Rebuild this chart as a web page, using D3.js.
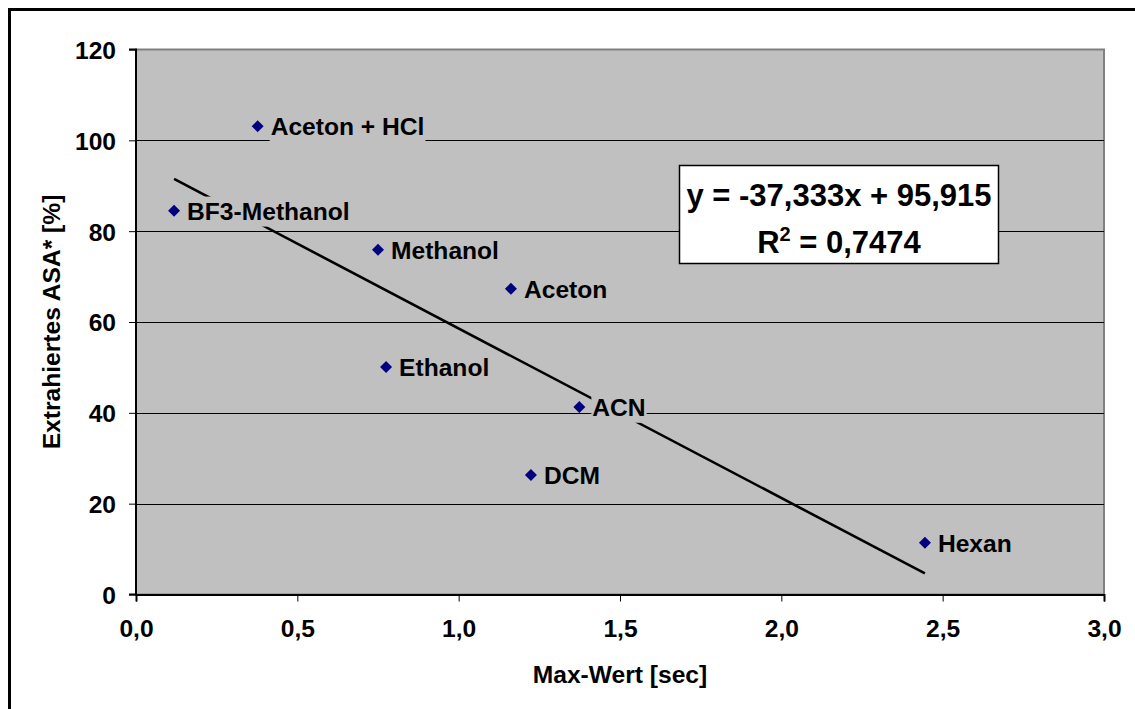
<!DOCTYPE html>
<html>
<head>
<meta charset="utf-8">
<script src="https://cdn.jsdelivr.net/npm/d3@7"></script>
<style>
  html, body { margin: 0; padding: 0; background: #fff; }
  svg { display: block; }
  text { font-family: "Liberation Sans", Arial, sans-serif; font-weight: bold; fill: #000; }
</style>
</head>
<body>
<svg id="chart" width="1135" height="709"></svg>
<script>
// ---- data ----
const names   = ["Aceton + HCl", "BF3-Methanol", "Methanol", "Aceton", "Ethanol", "ACN", "DCM", "Hexan"];
const maxWert = [0.377, 0.118, 0.750, 1.162, 0.775, 1.374, 1.224, 2.445];
const asa     = [103.1, 84.5, 75.9, 67.3, 50.1, 41.3, 26.3, 11.4];
const xTicks  = [0, 0.5, 1.0, 1.5, 2.0, 2.5, 3.0];
const yTicks  = [0, 20, 40, 60, 80, 100, 120];
const trendSlope = [-37.333];
const trendIntercept = [95.915];
const eqLine1 = "y = -37,333x + 95,915";
const eqR2 = "0,7474";
const xTitle = "Max-Wert [sec]";
const yTitle = "Extrahiertes ASA* [%]";

// ---- layout ----
const svg = d3.select("#chart");
const L = 136, R = 1104, T = 49.5, B = 594.5;
const x = d3.scaleLinear().domain([0, 3]).range([L, R]);
const y = d3.scaleLinear().domain([0, 120]).range([B, T]);
const fmt = d => d3.format(".1f")(d).replace(".", ",");
const FS = "24.6px";

// outer frame
svg.append("rect").attr("x", 9.5).attr("y", 9.5).attr("width", 1140).attr("height", 720)
  .attr("fill", "#fff").attr("stroke", "#000").attr("stroke-width", 3);

// plot background
svg.append("rect").attr("x", L).attr("y", T).attr("width", R - L).attr("height", B - T)
  .attr("fill", "#C0C0C0").attr("stroke", "#808080").attr("stroke-width", 2);

// gridlines
svg.append("g").selectAll("line").data(yTicks.filter(d => d > 0 && d < 120)).join("line")
  .attr("x1", L).attr("x2", R).attr("y1", d => Math.round(y(d)) + 0.5).attr("y2", d => Math.round(y(d)) + 0.5)
  .attr("stroke", "#000").attr("stroke-width", 1);

// axes
const xAxis = svg.append("g").attr("transform", `translate(0,${B})`)
  .call(d3.axisBottom(x).tickValues(xTicks).tickSize(7).tickPadding(18).tickFormat(fmt));
const yAxis = svg.append("g").attr("transform", `translate(${L},0)`)
  .call(d3.axisLeft(y).tickValues(yTicks).tickSize(7).tickPadding(13).tickFormat(d3.format("d")));
[xAxis, yAxis].forEach(g => {
  g.select(".domain").attr("stroke", "#000").attr("stroke-width", 2);
  g.selectAll(".tick line").attr("stroke", "#000").attr("stroke-width", 1);
  g.selectAll("text").style("font-size", FS).style("font-weight", "bold")
    .style("font-family", '"Liberation Sans", Arial, sans-serif').attr("fill", "#000");
});
yAxis.select(".domain").attr("d", `M-7,${T}H0V${B}H-7`).attr("stroke", "#000");
yAxis.selectAll("text").attr("dy", "0.36em");
xAxis.selectAll("text").attr("dy", "0.71em");

// trendline
const xs = d3.extent(maxWert);
svg.append("line")
  .attr("x1", x(xs[0])).attr("y1", y(trendSlope[0] * xs[0] + trendIntercept[0]))
  .attr("x2", x(xs[1])).attr("y2", y(trendSlope[0] * xs[1] + trendIntercept[0]))
  .attr("stroke", "#000").attr("stroke-width", 2.6);

// points + labels
const data = names.map((n, i) => ({ n, x: maxWert[i], y: asa[i] }));
const lg = svg.append("g");
data.forEach(d => {
  const g = lg.append("g");
  const rect = g.append("rect").attr("fill", "#C0C0C0");
  const t = g.append("text").attr("x", x(d.x) + 13).attr("y", y(d.y)).attr("dy", "0.36em")
    .style("font-size", FS).text(d.n);
  const bb = t.node().getBBox();
  rect.attr("x", bb.x - 1).attr("y", bb.y - 1).attr("width", bb.width + 2).attr("height", bb.height + 3);
});
svg.append("g").selectAll("path").data(data).join("path")
  .attr("transform", d => `translate(${x(d.x)},${y(d.y)})`)
  .attr("d", "M0,-6L6,0L0,6L-6,0Z").attr("fill", "#000080");

// equation box
svg.append("rect").attr("x", 679.5).attr("y", 165.5).attr("width", 319).attr("height", 98)
  .attr("fill", "#fff").attr("stroke", "#000").attr("stroke-width", 1.5);
svg.append("text").attr("x", 839).attr("y", 206).attr("text-anchor", "middle")
  .style("font-size", "31px").text(eqLine1);
const r2 = svg.append("text").attr("x", 839).attr("y", 253).attr("text-anchor", "middle")
  .style("font-size", "31px");
r2.append("tspan").text("R");
r2.append("tspan").attr("dy", "-12").style("font-size", "20px").text("2");
r2.append("tspan").attr("dy", "12").text(" = " + eqR2);

// axis titles
svg.append("text").attr("x", (L + R) / 2).attr("y", 683).attr("text-anchor", "middle")
  .style("font-size", FS).text(xTitle);
svg.append("text").attr("transform", `translate(60,${(T + B) / 2}) rotate(-90)`)
  .attr("text-anchor", "middle").style("font-size", FS).text(yTitle);
</script>
</body>
</html>
